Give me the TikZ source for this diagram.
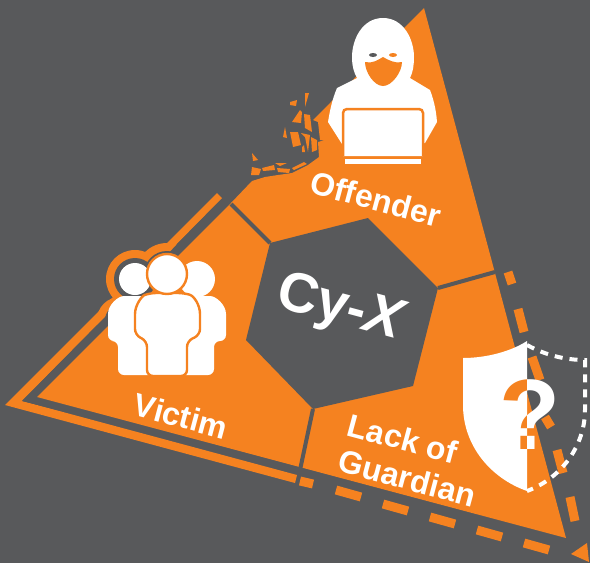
\documentclass[tikz,border=0pt]{standalone}
\usepackage{fontspec}
\setmainfont{Liberation Sans}
\definecolor{slate}{HTML}{58595B}
\definecolor{amber}{HTML}{F58220}
\begin{document}
\begin{tikzpicture}[x=1pt,y=-1pt]
    \tikzset{label/.style = {text=white, font=\bfseries\fontsize{32}{37}\selectfont, align=left}}
    \tikzset{divider/.style = {draw=slate, line width=4pt}}
    \tikzset{piece/.style = {fill=amber}}
    \tikzset{bar/.style = {draw=amber, line width=9pt}}
    \tikzset{person/.style = {fill=white, draw=amber, line width=2.4pt, rounded corners=6pt}}
    \fill[slate] (0,0) rectangle (590,563);
    \useasboundingbox (0,0) rectangle (590,563);

    % outer bar with the bumps round the heads
    \fill[amber] (5,405) -- (217,193) -- (222,198) -- (22,401) -- (297,475) -- (295,483) -- cycle;
    \fill[amber] (135,279) circle (29);
    \fill[amber] (167,274) circle (31);
    \fill[amber] (120,320) circle (23);
    \fill[slate] (22,401) -- (222,199) -- (231,205) -- (300,470) -- cycle;
    \fill[slate] (167,274) circle (23);
    \fill[slate] (120,320) circle (15);

    % triangle
    \fill[piece] (37,397) -- (231,203) -- (252,181) -- (265,177) -- (278,175) -- (292,173)
        -- (308,165) -- (319,157) -- (318,142) -- (325,140) -- (320,140) -- (318,122) -- (313,120)
        -- (330,103) -- (424,8) -- (566,538) -- cycle;
    \fill[slate] (135,279) circle (21);

    % fragments
    \foreach \p in {{(290,102) -- (297,100) -- (296,106) -- (290,105)},
                    {(305,93) -- (309,93) -- (305,107)},
                    {(292,122) -- (300,110) -- (302,112) -- (301,123)},
                    {(304,114) -- (310,115) -- (312,132) -- (305,128)},
                    {(283,137) -- (285,127) -- (287,138)},
                    {(290,132) -- (298,132) -- (301,145) -- (293,147)},
                    {(301,133) -- (310,135) -- (308,152) -- (305,137)},
                    {(311,137) -- (317,140) -- (317,150) -- (312,152)},
                    {(302,147) -- (304,145) -- (305,152) -- (302,152)},
                    {(252,153) -- (258,160) -- (253,161)},
                    {(252,167) -- (261,169) -- (259,175) -- (251,175)},
                    {(262,168) -- (274,165) -- (275,170) -- (263,171)},
                    {(275,163) -- (287,163) -- (280,166)},
                    {(277,168) -- (290,169) -- (289,173) -- (278,172)},
                    {(292,168) -- (304,162) -- (307,164) -- (294,170)}}
        \fill[piece] \p -- cycle;

    % centre and dividers
    \draw[divider] (270,243) -- (231,204);
    \draw[divider] (438,288) -- (495,272);
    \draw[divider] (313,409) -- (300,470);
    \fill[slate] (270,243) -- (368,218) -- (438,288) -- (413,386) -- (313,409) -- (246,340) -- cycle;

    % dashes
    \foreach \a/\b in {336/490,383/504,430/517,477/530,524/543}
        \draw[bar] (\a,\b) -- ++(25,7);
    \draw[bar] (300,481) -- ++(13,3);
    \foreach \a/\b/\c/\d in {508/272/512/284,518/309/524/332,532/357/540/380,545/417/551/427,557/450/563/473,570/497/575/521}
        \draw[bar] (\a,\b) -- (\c,\d);
    \fill[piece] (571,554) -- (587,543) -- (589,562) -- cycle;

    % hooded figure
    \fill[white] (383,18) .. controls (362,18) and (352,40) .. (352,57)
        .. controls (352,66) and (354,73) .. (357,78) -- (337,88)
        .. controls (332,100) and (330,110) .. (328,122) -- (342,144) -- (425,143) -- (437,122)
        .. controls (436,108) and (433,98) .. (430,90) -- (410,78)
        .. controls (413,72) and (414,65) .. (414,57) .. controls (414,40) and (404,18) .. (383,18) -- cycle;
    \fill[piece] (365,62) .. controls (372,64) and (378,60) .. (383,57)
        .. controls (388,60) and (396,64) .. (402,62)
        .. controls (402,72) and (392,86) .. (383,86)
        .. controls (374,86) and (365,72) .. (365,62) -- cycle;
    \fill[slate] (373,55) ellipse (4 and 2);
    \fill[piece] (393,55) ellipse (4 and 2);
    \draw[amber, fill=white, line width=2.5pt, rounded corners=4pt] (343,156) -- (343,109) -- (423,109) -- (423,156);
    \fill[white] (345,159) rectangle (421,164);

    % crowd
    \fill[white, rounded corners=6pt] (130,296) .. controls (118,296) and (108,305) .. (108,320) -- (108,341) -- (118,341) -- (118,375) -- (214,375) -- (214,341) -- (226,341) -- (226,320) .. controls (226,305) and (216,296) .. (204,296) -- cycle;
    \fill[white] (135,279) circle (16);
    \fill[white] (197,279) circle (18);
    \draw[person] (150,293) .. controls (142,296) and (135,305) .. (135,320) -- (135,335) -- (147,341) -- (147,376) -- (187,376) -- (187,341) -- (200,335) -- (200,320) .. controls (200,305) and (194,296) .. (184,293) -- cycle;
    \draw[fill=white, draw=amber, line width=2.4pt] (167,274) circle (20);

    % shield
    \fill[white] (527,341) .. controls (510,352) and (485,358) .. (463,358) -- (463,405)
        .. controls (463,445) and (490,478) .. (527,491) -- cycle;
    \draw[white, line width=4pt, dash pattern=on 8pt off 7pt] (527,345) .. controls (545,355) and (565,360) .. (585,360) -- (585,410)
        .. controls (585,445) and (562,478) .. (527,491);

    % question mark
    \begin{scope}
        \clip (440,340) rectangle (527,500);
        \node[font=\bfseries\fontsize{100}{100}\selectfont, text=amber] (markleft) at (530,415) {?};
    \end{scope}
    \begin{scope}
        \clip (527,340) rectangle (600,500);
        \node[font=\bfseries\fontsize{100}{100}\selectfont, text=white] (markright) at (530,415) {?};
    \end{scope}

    % labels
    \node[label, rotate=-15] (offender) at (376,199) {Offender};
    \node[label, rotate=-15] (victim) at (181,416) {Victim};
    \node[label, rotate=-15] (guardian) at (412,460) {Lack of\\Guardian};
    \node[label, rotate=-15, font=\bfseries\fontsize{56}{60}\selectfont] (cyx) at (341,310) {Cy-\textit{X}};
\end{tikzpicture}
\end{document}
